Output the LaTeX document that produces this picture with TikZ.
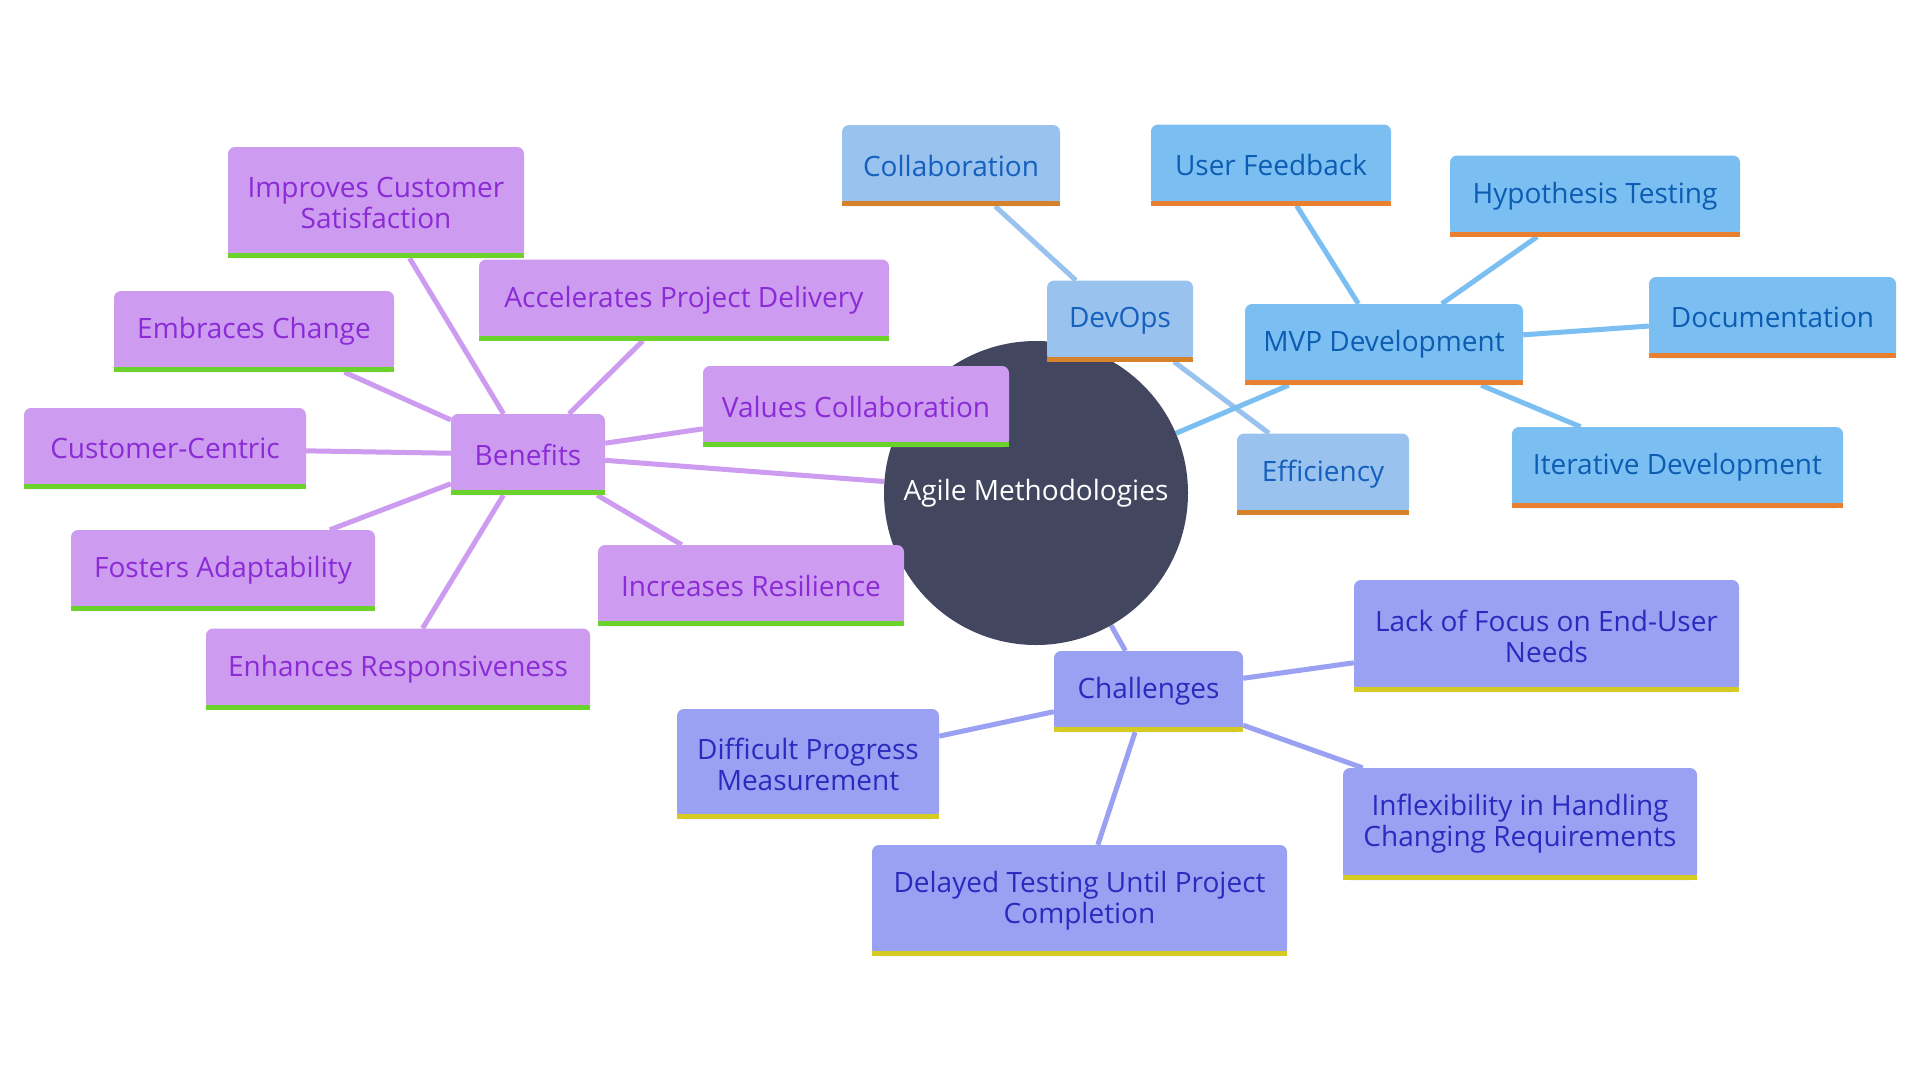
\documentclass[tikz,border=0pt]{standalone}
\usepackage{fontspec}
\setmainfont{Open Sans}
\usepackage{xcolor}
\definecolor{hubslate}{RGB}{66, 70, 94}
\definecolor{benfill}{RGB}{205, 155, 240}
\definecolor{bentext}{RGB}{138, 43, 214}
\definecolor{benbar}{RGB}{107, 209, 43}
\definecolor{devfill}{RGB}{153, 194, 238}
\definecolor{devtext}{RGB}{21, 96, 189}
\definecolor{devbar}{RGB}{214, 130, 43}
\definecolor{mvpfill}{RGB}{123, 191, 242}
\definecolor{mvptext}{RGB}{12, 92, 178}
\definecolor{mvpbar}{RGB}{232, 128, 48}
\definecolor{chafill}{RGB}{154, 160, 242}
\definecolor{chatext}{RGB}{42, 43, 190}
\definecolor{chabar}{RGB}{214, 203, 32}
\usepackage{tikz}
\usetikzlibrary{backgrounds}

\begin{document}
\begin{tikzpicture}[x=1pt, y=-1pt,
    mapfont/.style={font=\fontsize{28}{31}\selectfont},
    hub/.style={circle, fill=hubslate, text=white, minimum size=304pt, inner sep=0pt, mapfont},
    leaf/.style={rectangle, rounded corners=7pt, inner sep=0pt, align=center, minimum height=81pt, mapfont},
    benefit/.style={leaf, fill=benfill, text=bentext},
    devops/.style={leaf, fill=devfill, text=devtext},
    mvp/.style={leaf, fill=mvpfill, text=mvptext},
    challenge/.style={leaf, fill=chafill, text=chatext},
    link/.style={line width=5pt, draw=#1}]
    \node[hub] (hub) at (1036,493) {Agile Methodologies};
    % benefits
    \node[benefit, minimum width=154pt] (ben) at (528,454.5) {Benefits};
    \node[benefit, minimum width=296pt, minimum height=111pt] (imp) at (376,202.5) {Improves Customer\\Satisfaction};
    \node[benefit, minimum width=410pt] (acc) at (684,300) {Accelerates Project Delivery};
    \node[benefit, minimum width=280pt] (emb) at (254,331.5) {Embraces Change};
    \node[benefit, minimum width=306pt] (val) at (856,406.5) {Values Collaboration};
    \node[benefit, minimum width=282pt] (cus) at (165,448.5) {Customer-Centric};
    \node[benefit, minimum width=304pt] (fos) at (223,570.5) {Fosters Adaptability};
    \node[benefit, minimum width=306pt] (inc) at (751,585.5) {Increases Resilience};
    \node[benefit, minimum width=384pt] (enh) at (398,669) {Enhances Responsiveness};
    % devops
    \node[devops, minimum width=146pt] (dev) at (1120,321) {DevOps};
    \node[devops, minimum width=218pt] (col) at (951,165.5) {Collaboration};
    \node[devops, minimum width=172pt] (eff) at (1323,474) {Efficiency};
    % mvp
    \node[mvp, minimum width=278pt] (mvpd) at (1384,344.5) {MVP Development};
    \node[mvp, minimum width=240pt] (usr) at (1271,165) {User Feedback};
    \node[mvp, minimum width=290pt] (hyp) at (1595,196) {Hypothesis Testing};
    \node[mvp, minimum width=247pt] (doc) at (1772.5,317.5) {Documentation};
    \node[mvp, minimum width=331pt] (itr) at (1677.5,467.5) {Iterative Development};
    % challenges
    \node[challenge, minimum width=189pt] (cha) at (1148.5,691.5) {Challenges};
    \node[challenge, minimum width=385pt, minimum height=112pt] (lack) at (1546.5,636) {Lack of Focus on End-User\\Needs};
    \node[challenge, minimum width=262pt, minimum height=110pt] (diff) at (808,764) {Difficult Progress\\Measurement};
    \node[challenge, minimum width=354pt, minimum height=112pt] (infl) at (1520,824) {Inflexibility in Handling\\Changing Requirements};
    \node[challenge, minimum width=415pt, minimum height=111pt] (del) at (1079.5,900.5) {Delayed Testing Until Project\\Completion};
    % coloured bars under the boxes
    \foreach \n in {ben, imp, acc, emb, val, cus, fos, inc, enh}
        \fill[benbar] (\n.south west) rectangle ([yshift=5pt]\n.south east);
    \foreach \n in {dev, col, eff}
        \fill[devbar] (\n.south west) rectangle ([yshift=5pt]\n.south east);
    \foreach \n in {mvpd, usr, hyp, doc, itr}
        \fill[mvpbar] (\n.south west) rectangle ([yshift=5pt]\n.south east);
    \foreach \n in {cha, lack, diff, infl, del}
        \fill[chabar] (\n.south west) rectangle ([yshift=5pt]\n.south east);
    \begin{scope}[on background layer]
        \fill[white] (0,0) rectangle (1920,1080);
        \foreach \n in {hub, imp, acc, emb, val, cus, fos, inc, enh}
            \draw[link=benfill] (ben) -- (\n);
        \foreach \n in {hub, col, eff}
            \draw[link=devfill] (dev) -- (\n);
        \foreach \n in {hub, usr, hyp, doc, itr}
            \draw[link=mvpfill] (mvpd) -- (\n);
        \foreach \n in {hub, lack, diff, infl, del}
            \draw[link=chafill] (cha) -- (\n);
    \end{scope}
\end{tikzpicture}
\end{document}
